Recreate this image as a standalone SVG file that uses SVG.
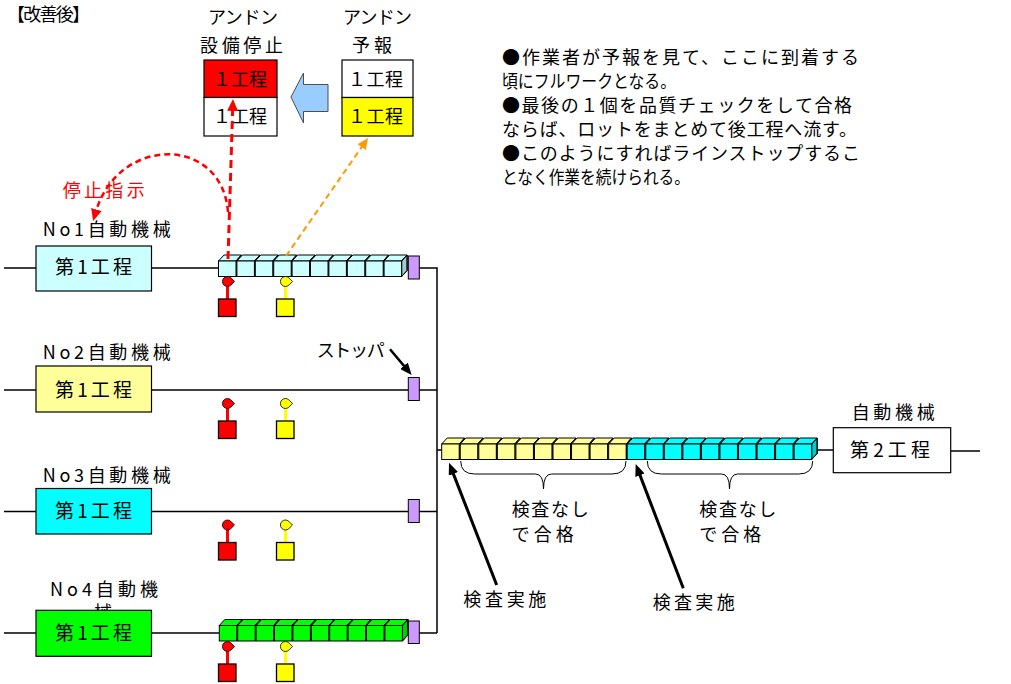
<svg xmlns="http://www.w3.org/2000/svg" width="1011" height="684" viewBox="0 0 1011 684">
<defs>
<style>
text{font-family:"Noto Sans CJK JP","Noto Sans",sans-serif;font-size:18px;fill:#000}
.ln{stroke:#000;stroke-width:1.5;fill:none}
.box{stroke:#000;stroke-width:1.2}
.cb{stroke:#000;stroke-width:1}
.stp{fill:#CC99FF;stroke:#000;stroke-width:1}
.bt{font-size:19px}
</style>
<marker id="ahK" viewBox="0 0 12 10" refX="3" refY="5" markerWidth="12" markerHeight="10" orient="auto" markerUnits="userSpaceOnUse"><path d="M0,0 L12,5 L0,10 z" fill="#000"/></marker>
<marker id="ahR" viewBox="0 0 12 11" refX="3" refY="5.5" markerWidth="12" markerHeight="11" orient="auto" markerUnits="userSpaceOnUse"><path d="M0,0 L12,5.5 L0,11 z" fill="#FF0000"/></marker>
<marker id="ahO" viewBox="0 0 11 10" refX="3" refY="5" markerWidth="11" markerHeight="10" orient="auto" markerUnits="userSpaceOnUse"><path d="M0,0 L11,5 L0,10 z" fill="#FF9900"/></marker>
<g id="cube" class="cb">
<path d="M0,0 l5.5,-6 h17.5 l-5.5,6 z"/>
<path d="M17.5,0 l5.5,-6 v15.5 l-5.5,6 z"/>
<path d="M17.5,0 l5.5,-6 v15.5 l-5.5,6 z" fill="#000" fill-opacity="0.2"/>
<rect x="0" y="0" width="17.5" height="15.5"/>
</g>
<g id="sig">
<line x1="0" y1="17" x2="0" y2="31" stroke="currentColor" stroke-width="3"/>
<path d="M3.3,9.8 A5,5 0 1 0 3.3,17.2 L7,13.5 Z" stroke="#000" stroke-width="0.8"/>
<rect x="-9" y="31" width="17.5" height="17.5" stroke="#000" stroke-width="1.3"/>
</g>
<g id="row10">
<use href="#cube" x="0"/><use href="#cube" x="18.4"/><use href="#cube" x="36.8"/><use href="#cube" x="55.2"/><use href="#cube" x="73.6"/><use href="#cube" x="92"/><use href="#cube" x="110.4"/><use href="#cube" x="128.8"/><use href="#cube" x="147.2"/><use href="#cube" x="165.6"/>
</g>
<g id="row10b">
<use href="#cube" x="0"/><use href="#cube" x="18.55"/><use href="#cube" x="37.1"/><use href="#cube" x="55.65"/><use href="#cube" x="74.2"/><use href="#cube" x="92.75"/><use href="#cube" x="111.3"/><use href="#cube" x="129.85"/><use href="#cube" x="148.4"/><use href="#cube" x="166.95"/>
</g>
</defs>
<rect width="1011" height="684" fill="#fff"/>

<text x="7" y="20.5" font-size="17" textLength="83">【改善後】</text>

<g id="connectors">
<path class="ln" d="M4,268 H36 M151,268 H218.5 M419.3,268 H437 V633"/>
<path class="ln" d="M4,390 H36 M151,390 H408.3 M419.3,390 H437"/>
<path class="ln" d="M4,511.5 H36 M151,511.5 H408.3 M419.3,511.5 H437"/>
<path class="ln" d="M4,633 H36 M151,633 H219 M419.3,633 H437"/>
<path class="ln" d="M437,450 H441.7 M817,450 H833.3 M950.7,451 H980"/>
</g>

<g id="andon-stop">
<text x="208" y="24" textLength="70">アンドン</text>
<text x="200" y="51.5" textLength="83">設備停止</text>
<rect class="box" x="204" y="60" width="73" height="37.5" fill="#FF0000"/>
<rect class="box" x="204" y="97.5" width="73" height="38.5" fill="#FFFFFF"/>
<text x="213" y="86" textLength="54">１工程</text>
<text x="213" y="123" textLength="54">１工程</text>
</g>

<g id="andon-forecast">
<text x="343" y="24" textLength="69">アンドン</text>
<text x="352" y="51.5" textLength="40">予報</text>
<rect class="box" x="342" y="60" width="71" height="37.5" fill="#FFFFFF"/>
<rect class="box" x="342" y="97.5" width="71" height="38.5" fill="#FFFF00"/>
<text x="348" y="86" textLength="55">１工程</text>
<text x="348" y="123" textLength="55">１工程</text>
</g>

<g id="block-arrow">
<polygon points="291,97 303.5,73 303.5,84.5 328,84.5 328,111.5 303.5,111.5 303.5,123" fill="#99CCFF" stroke="#4d4d4d" stroke-width="1"/>
</g>

<g id="note">
<text x="502" y="64" textLength="357">●作業者が予報を見て、ここに到着する</text>
<text x="502" y="88" textLength="174" lengthAdjust="spacingAndGlyphs">頃にフルワークとなる。</text>
<text x="502" y="112" textLength="350">●最後の１個を品質チェックをして合格</text>
<text x="502" y="136" textLength="355">ならば、ロットをまとめて後工程へ流す。</text>
<text x="502" y="160" textLength="358">●このようにすればラインストップするこ</text>
<text x="502" y="184" textLength="188" lengthAdjust="spacingAndGlyphs">となく作業を続けられる。</text>
</g>

<g id="machine1">
<text x="42.7" y="235.5" textLength="128">No1自動機械</text>
<rect class="box" x="36" y="246" width="115.5" height="45" fill="#CCFFFF"/>
<text class="bt" x="55" y="273.5" textLength="77">第1工程</text>
<use href="#row10" x="218.5" y="261" fill="#CCFFFF"/>
<rect class="stp" x="408.3" y="256" width="11" height="23"/>
<use href="#sig" x="227.5" y="268" fill="#FF0000" color="#FF0000"/>
<use href="#sig" x="285.5" y="268" fill="#FFFF00" color="#FFFF00"/>
</g>

<g id="machine2">
<text x="42.7" y="359" textLength="128">No2自動機械</text>
<rect class="box" x="36" y="366" width="115.5" height="46" fill="#FFFF99"/>
<text class="bt" x="55" y="396.5" textLength="77">第1工程</text>
<rect class="stp" x="408.3" y="377.5" width="11" height="23"/>
<use href="#sig" x="227.5" y="390" fill="#FF0000" color="#FF0000"/>
<use href="#sig" x="285.5" y="390" fill="#FFFF00" color="#FFFF00"/>
</g>

<g id="machine3">
<text x="42.7" y="482" textLength="128">No3自動機械</text>
<rect class="box" x="36" y="488.5" width="115.5" height="45.5" fill="#00FFFF"/>
<text class="bt" x="55" y="518" textLength="77">第1工程</text>
<rect class="stp" x="408.3" y="499.5" width="11" height="23"/>
<use href="#sig" x="227.5" y="511.5" fill="#FF0000" color="#FF0000"/>
<use href="#sig" x="285.5" y="511.5" fill="#FFFF00" color="#FFFF00"/>
</g>

<g id="machine4">
<text><tspan x="50" y="596" textLength="108">No4自動機</tspan><tspan x="94" y="618.5">械</tspan></text>
<rect class="box" x="36" y="610.3" width="115.5" height="46" fill="#00FF00"/>
<text class="bt" x="55" y="640" textLength="77">第1工程</text>
<use href="#row10" x="219.3" y="625.5" fill="#00FF00"/>
<rect class="stp" x="408.3" y="621" width="11" height="22.5"/>
<use href="#sig" x="227.5" y="633" fill="#FF0000" color="#FF0000"/>
<use href="#sig" x="285.5" y="633" fill="#FFFF00" color="#FFFF00"/>
</g>

<g id="stopper-label">
<text x="316.7" y="357" textLength="68">ストッパ</text>
</g>

<g id="buffer">
<use href="#row10b" x="441.7" y="444" fill="#FFFF99"/>
<use href="#row10b" x="627.2" y="444" fill="#00FFFF"/>
<path class="ln" style="stroke-width:1" d="M460.7,461 Q460.7,474 474.7,474 L535.5,474 Q543.5,474 543.5,489 Q543.5,474 551.5,474 L612,474 Q626,474 626,461"/>
<path class="ln" style="stroke-width:1" d="M647.3,461 Q647.3,474 661.3,474 L721.5,474 Q729.5,474 729.5,489 Q729.5,474 737.5,474 L798.7,474 Q812.7,474 812.7,461"/>
<text x="511.7" y="515.5" textLength="77">検査なし</text>
<text x="511.7" y="540.5" textLength="62">で合格</text>
<text x="699.3" y="515.5" textLength="77">検査なし</text>
<text x="699.3" y="540.5" textLength="62">で合格</text>
<text x="463.3" y="605.5" textLength="83">検査実施</text>
<text x="652.7" y="609" textLength="82">検査実施</text>
</g>

<g id="machine-2nd">
<text x="851.7" y="419" textLength="83">自動機械</text>
<rect class="box" x="833.3" y="427.7" width="117.4" height="45" fill="#FFFFFF"/>
<text class="bt" x="850" y="457" textLength="80">第2工程</text>
</g>

<g id="arrows">
<line x1="390" y1="349.3" x2="405.9" y2="368.1" stroke="#000" stroke-width="2.5" marker-end="url(#ahK)"/>
<line x1="496.7" y1="585" x2="452.3" y2="471.1" stroke="#000" stroke-width="3" marker-end="url(#ahK)"/>
<line x1="683.3" y1="588.3" x2="638.9" y2="472.4" stroke="#000" stroke-width="3" marker-end="url(#ahK)"/>
<line x1="228" y1="259" x2="232.7" y2="108" stroke="#FF0000" stroke-width="3" stroke-dasharray="8 5" marker-end="url(#ahR)"/>
<path d="M228,212 C222,135 118,135 95.6,212.4" fill="none" stroke="#FF0000" stroke-width="2.5" stroke-dasharray="6 4" marker-end="url(#ahR)"/>
<line x1="286" y1="256" x2="363.4" y2="144.6" stroke="#FF9900" stroke-width="2" stroke-dasharray="6 4" marker-end="url(#ahO)"/>
</g>

<text x="62.7" y="197" font-size="19" textLength="82" style="fill:#FF0000">停止指示</text>
</svg>
